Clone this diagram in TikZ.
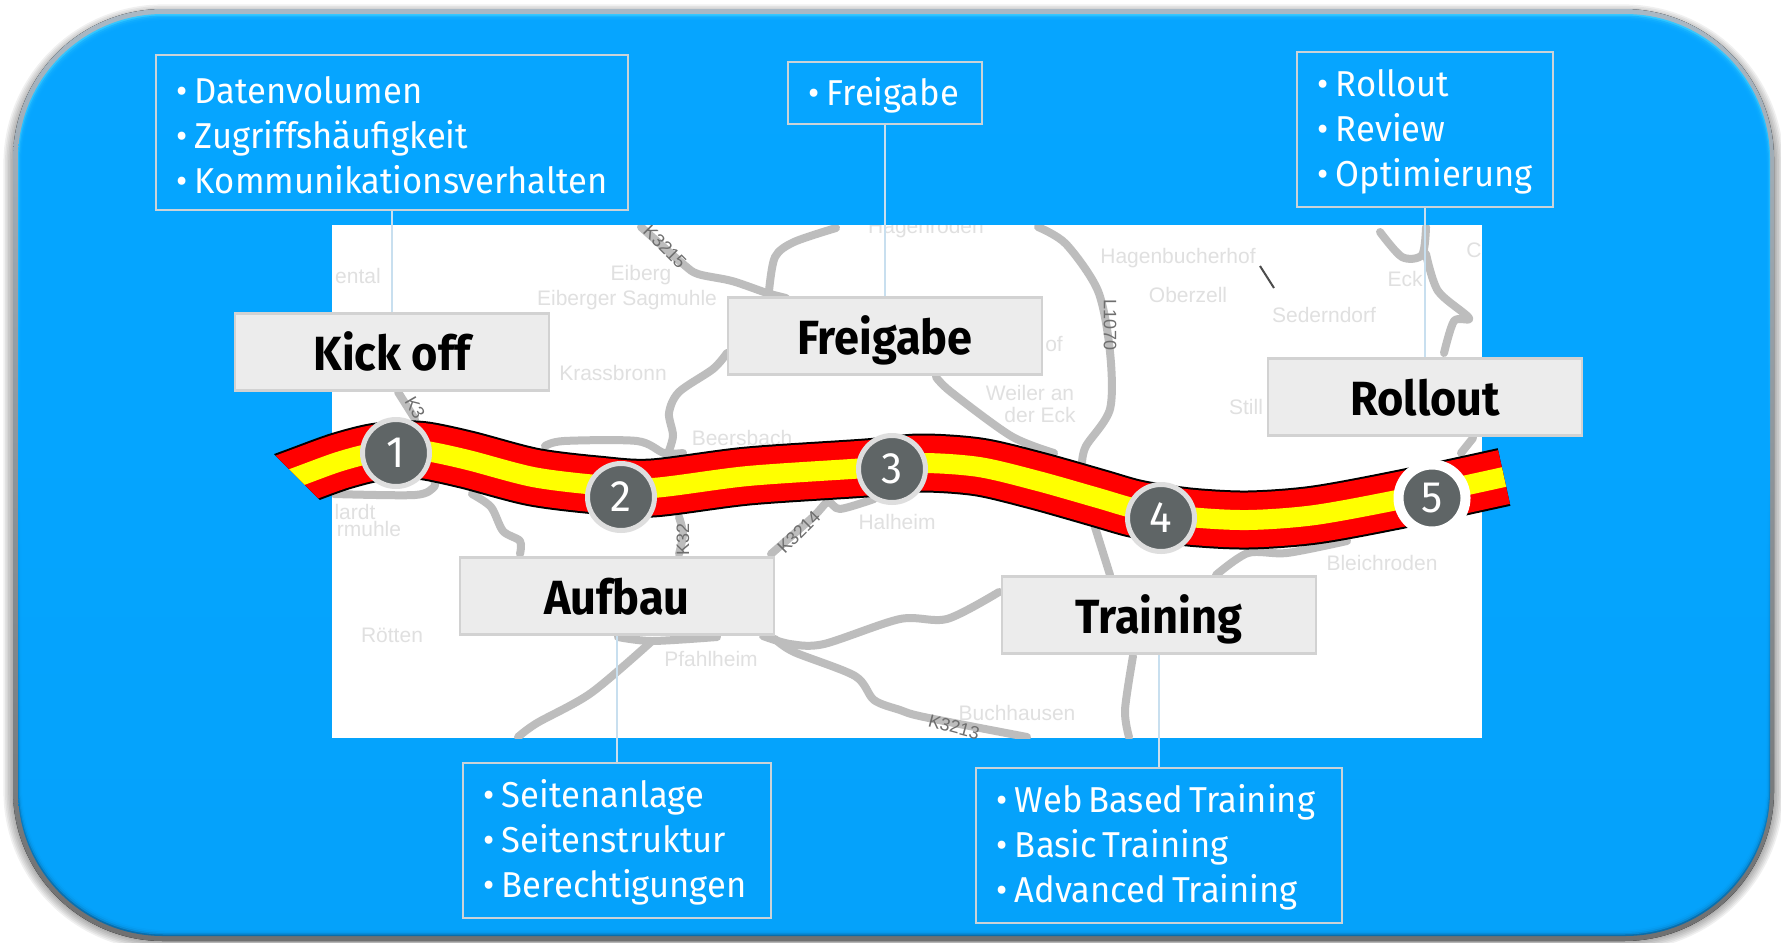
\documentclass[tikz,border=0pt]{standalone}
\usepackage{fontspec}
\setmainfont[FakeStretch=0.96,BoldFeatures={FakeStretch=0.94}]{Fira Sans}
\newfontfamily\mapfont{Liberation Sans}
\usepackage{xcolor}
\usetikzlibrary{calc}
\definecolor{panelblue}{HTML}{05A5FF}
\definecolor{panelhigh}{HTML}{35C8FF}
\definecolor{paneldark}{HTML}{0A6CA8}
\definecolor{rimtop}{HTML}{A9B8C4}
\definecolor{rimbottom}{HTML}{707070}
\definecolor{roadgray}{HTML}{BDBDBD}
\definecolor{maptext}{HTML}{E0E0E0}
\definecolor{roadtext}{HTML}{6E6E6E}
\definecolor{boxgray}{HTML}{ECECEC}
\definecolor{boxline}{HTML}{D2D2D2}
\definecolor{detailline}{HTML}{CBD3D8}
\definecolor{leaderblue}{HTML}{C8DFEF}
\definecolor{stepgray}{HTML}{5F6566}
\definecolor{stepline}{HTML}{DEDEDE}
\definecolor{ribbonred}{HTML}{FF0000}
\definecolor{ribbonyellow}{HTML}{FFFF00}
\tikzstyle{road}=[draw=roadgray, line width=4pt, line join=round, line cap=round]
\tikzstyle{placename}=[text=maptext, font=\mapfont\fontsize{10.5}{12}\selectfont, inner sep=0pt]
\tikzstyle{roadname}=[text=roadtext, font=\mapfont\fontsize{9}{10}\selectfont, inner sep=0pt]
\tikzstyle{labelbox}=[draw=boxline, fill=boxgray, line width=1.2pt, minimum width=157pt, minimum height=38.5pt, inner sep=0pt, text height=18.5pt, text depth=0pt, font=\bfseries\fontsize{24}{28}\selectfont]
\tikzstyle{detailbox}=[draw=detailline, line width=1pt, text=white, align=left, text width=#1, inner xsep=10pt, inner ysep=5.5pt, font=\fontsize{18}{22.6}\selectfont]
\tikzstyle{threeline}=[minimum height=77.5pt]
\tikzstyle{leader}=[draw=leaderblue, line width=1pt]
\tikzstyle{stepdot}=[circle, draw=stepline, fill=stepgray, line width=2.5pt, minimum size=33.5pt, inner sep=0pt, text=white, font=\fontsize{22}{24}\selectfont]
\newcommand{\bl}{\rule{0pt}{16.5pt}\makebox[9.5pt][l]{•}}
\newcommand{\ws}{\hskip 2.9pt}
\newcommand{\ribbonpath}{plot[smooth] coordinates {(270,487) (297,477) (338,462) (372,453) (400,450) (426,451) (468,460) (533,477) (597,485) (652,488) (748,476) (866,468) (920,463) (979,467) (1038,481) (1098,498) (1137,509) (1189,517) (1248,520) (1315,515) (1402,499) (1504,477)}}
\begin{document}
\begin{tikzpicture}[x=0.5pt,y=-0.5pt]
\useasboundingbox (0,0) rectangle (1781,942);
% panel
\foreach \s in {1,...,6} {
	\draw[black, opacity=0.06, line width=\s*1.6pt, rounded corners=75pt] (13,14) rectangle (1774,941);
}
\fill[rounded corners=75pt, top color=rimtop, bottom color=rimbottom] (13,9) rectangle (1774,941);
\shade[rounded corners=72.5pt, top color=panelhigh, bottom color=paneldark, middle color=panelblue] (18,14) rectangle (1770,936);
\foreach \s in {1,...,4} {
	\fill[panelblue, opacity=0.55, rounded corners=72.5pt] (18+\s,14+1.5*\s) rectangle (1770-\s,936-1.5*\s);
}
% map
\begin{scope}
\clip (332,225) rectangle (1482,738);
\fill[white] (332,225) rectangle (1482,738);
\draw[road] plot[smooth] coordinates {(641,227) (683,264) (698,274) (732,281) (767,293) (786,298)};
\draw[road] plot[smooth] coordinates {(836,228) (794,242) (775,257) (769,291)};
\draw[road] plot[smooth] coordinates {(727,353) (713,369) (679,392) (669,413) (673,436) (667,456)};
\draw[road] plot[smooth] coordinates {(545,446) (564,441) (637,441) (664,453) (683,453)};
\draw[road] plot[smooth] coordinates {(398,392) (415,419)};
\draw[road] plot[smooth] coordinates {(334,494) (415,495) (434,487) (434,480)};
\draw[road] plot[smooth] coordinates {(472,494) (491,507) (503,531) (520,541) (520,554)};
\draw[road] plot[smooth] coordinates {(679,517) (683,534) (679,554)};
\draw[road] plot[smooth] coordinates {(771,554) (813,517) (828,502) (840,509) (874,499)};
\draw[road] plot[smooth] coordinates {(618,637) (652,641) (717,637)};
\draw[road] plot[smooth] coordinates {(652,641) (591,693) (537,723) (518,737)};
\draw[road] plot[smooth] coordinates {(763,636) (790,644) (824,644) (900,619) (947,619) (999,592)};
\draw[road] plot[smooth] coordinates {(775,639) (794,652) (855,676) (874,700) (900,710) (924,717) (1027,737)};
\draw[road] plot[smooth] coordinates {(1038,227) (1066,244) (1098,291) (1110,352) (1110,409) (1086,446) (1082,463)};
\draw[road] plot[smooth] coordinates {(1094,524) (1110,575)};
\draw[road] plot[smooth] coordinates {(936,377) (951,392) (1011,436) (1054,453)};
\draw[road] plot[smooth] coordinates {(1216,575) (1248,553) (1287,553) (1347,541)};
\draw[road] plot[smooth] coordinates {(1133,656) (1125,710) (1129,737)};
\draw[road] plot[smooth] coordinates {(1380,232) (1402,257) (1422,255) (1426,227)};
\draw[road] plot[smooth] coordinates {(1426,254) (1438,291) (1469,318) (1454,321) (1444,353)};
\draw[road] plot[smooth] coordinates {(1473,438) (1461,453)};
\draw[black!70, line width=1pt] (1260,266) -- (1274,288);
\node[placename] (ental) at (358,276) {ental};
\node[placename] (eiberg) at (641,275) {Eiberg};
\node[placename] (sagmuhle) at (627,300) {Eiberger Sagmuhle};
\node[placename] (krassbronn) at (613,373) {Krassbronn};
\node[placename] (beersbach) at (742,438) {Beersbach};
\node[placename] (halheim) at (897,522) {Halheim};
\node[placename] (lardt) at (355,512) {lardt};
\node[placename] (rmuhle) at (369,529) {rmuhle};
\node[placename] (roetten) at (392,635) {Rötten};
\node[placename] (pfahlheim) at (711,659) {Pfahlheim};
\node[placename] (buchhausen) at (1017,713) {Buchhausen};
\node[placename] (hagenbuch) at (1178,258) {Hagenbucherhof};
\node[placename] (oberzell) at (1188,295) {Oberzell};
\node[placename] (sederndorf) at (1324,315) {Sederndorf};
\node[placename] (eck) at (1405,279) {Eck};
\node[placename] (weiler) at (1030,393) {Weiler an};
\node[placename] (dereck) at (1040,415) {der Eck};
\node[placename] (still) at (1246,407) {Still};
\node[placename] (bleichroden) at (1382,563) {Bleichroden};
\node[placename] (cmark) at (1474,250) {C};
\node[placename] (ofmark) at (1054,344) {of};
\node[placename] (hagenroden) at (926,228) {Hagenroden};
\node[roadname, rotate=-45] (k3215) at (665,247) {K3215};
\node[roadname, rotate=-60] (k3a) at (415,408) {K3};
\node[roadname, rotate=90] (k32) at (683,539) {K32};
\node[roadname, rotate=45] (k3214) at (799,532) {K3214};
\node[roadname, rotate=-90] (l1070) at (1110,325) {L1070};
\node[roadname, rotate=-15] (k3213) at (954,727) {K3213};
\end{scope}
% boxes
\node[labelbox] (kickoff) at (392,352) {Kick off};
\node[labelbox] (freigabe) at (885,336) {Freigabe};
\node[labelbox] (aufbau) at (617,596) {Aufbau};
\node[labelbox] (training) at (1159,615) {Training};
\node[labelbox] (rollout) at (1425,397) {Rollout};
\node[detailbox=216pt, threeline] (dkickoff) at (392,132) {\bl Datenvolumen\\\bl Zugriffshäufigkeit\\\bl Kommunikationsverhalten};
\node[detailbox=77pt] (dfreigabe) at (885,93) {\bl Freigabe};
\node[detailbox=134pt, threeline] (daufbau) at (617,840) {\bl Seitenanlage\\\bl Seitenstruktur\\\bl Berechtigungen};
\node[detailbox=163pt, threeline] (dtraining) at (1159,845) {\bl Web\ws Based\ws Training\\\bl Basic\ws Training\\\bl Advanced\ws Training};
\node[detailbox=108pt, threeline] (drollout) at (1425,129) {\bl Rollout\\\bl Review\\\bl Optimierung};
\draw[leader] (dkickoff) -- (kickoff);
\draw[leader] (dfreigabe) -- (freigabe);
\draw[leader] (daufbau) -- (aufbau);
\draw[leader] (dtraining) -- (training);
\draw[leader] (drollout) -- (rollout);
% ribbon
\begin{scope}
\clip (250,430) -- (330,510) -- (1600,600) -- (1600,300) -- cycle;
\draw[black, line width=29.5pt] \ribbonpath;
\draw[ribbonred, line width=27.5pt] \ribbonpath;
\draw[ribbonyellow, line width=10pt] \ribbonpath;
\end{scope}
\node[stepdot] (one) at (396,453) {1};
\node[stepdot] (two) at (621,497) {2};
\node[stepdot] (three) at (892,469) {3};
\node[stepdot] (four) at (1161,518) {4};
\node[stepdot, draw=white, line width=5pt] (five) at (1432,498) {5};
\end{tikzpicture}
\end{document}
